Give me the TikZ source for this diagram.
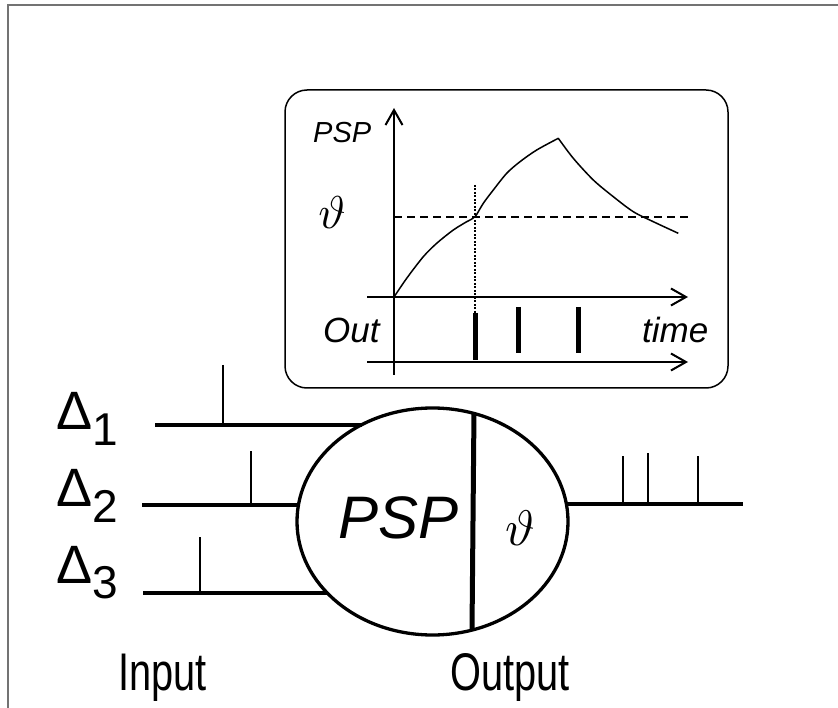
\documentclass[tikz,border=0pt]{standalone}
\usepackage{fontspec}
\setmainfont{Liberation Sans}
\usepackage{graphicx}
\usetikzlibrary{arrows.meta,shapes.geometric}

\begin{document}
\begin{tikzpicture}[x=1pt,y=-1pt,>={Straight Barb[length=15pt,width=17pt]},
  wire/.style={line width=3.5pt},
  spike/.style={line width=1.8pt},
  axis/.style={line width=2pt},
  big/.style={font=\fontsize{53}{60}\selectfont,inner sep=0pt,anchor=base west},
  mid/.style={font=\fontsize{35}{40}\selectfont\itshape,inner sep=0pt,anchor=base west},
  small/.style={font=\fontsize{29}{34}\selectfont\itshape,inner sep=0pt,anchor=base west}]
\useasboundingbox (0,0) rectangle (838,708);
\draw[black!55,line width=2pt] (838,5) -- (7.5,5) -- (7.5,708);

% inset: potential and output spikes
\node[draw,rounded corners=22pt,line width=1.5pt,minimum width=443pt,minimum height=298pt,inner sep=0pt] (graph) at (506.5,239) {};
\draw[axis,->] (394,375) -- (394,108);
\draw[axis,->] (367,297) -- (688,297);
\draw[axis,->] (367,362) -- (688,362);
\draw[line width=1.6pt,dash pattern=on 8pt off 5pt] (394,217) -- (690,217);
\draw[line width=2pt,dash pattern=on 2pt off 1.5pt] (475,185) -- (475,313);
\draw[line width=1.5pt,line join=round]
  plot[smooth] coordinates {(394,297) (406.7,278.3) (423.3,256.7) (436.7,243.3) (453.3,230) (466.7,221.7) (475,216.7) (483.3,203.3) (493.3,190) (506.7,173.3) (520,161.7) (536.7,150) (558.3,138.3)}
  -- plot[smooth] coordinates {(558.3,138.3) (573.3,158.3) (593.3,180) (613.3,196.7) (633.3,211.7) (653.3,221.7) (678.3,233.3)};
\draw[line width=5pt] (475,313) -- (475,360);
\draw[line width=5pt] (518,307) -- (518,353);
\draw[line width=5pt] (578,307) -- (578,353);
\node[small] (psplbl) at (313,143) {PSP};
\node[mid] (outlbl) at (323,343) {Out};
\node[mid] (timelbl) at (642,343) {time};
\node[inner sep=0pt] (thr) at (332,213) {\scalebox{4.6}{$\vartheta$}};

% neuron
\node[ellipse,draw,line width=3.3pt,minimum width=271pt,minimum height=227pt,inner sep=0pt,outer sep=0pt] (neuron) at (432.5,521.5) {};
\draw[line width=5pt] (neuron.69.5) -- (neuron.290.5);
\node[font=\fontsize{60}{60}\selectfont\itshape,inner sep=0pt,anchor=base west] (psp) at (338,538) {PSP};
\node[inner sep=0pt] (theta) at (520,528) {\scalebox{5}{$\vartheta$}};

\coordinate (in1) at (155,425);
\coordinate (in2) at (142,505);
\coordinate (in3) at (143,593);
\coordinate (out) at (743,504);
\draw[wire] (in1) -- (in1 -| neuron.126.5);
\draw[wire] (in2) -- (in2 -| neuron.173);
\draw[wire] (in3) -- (in3 -| neuron.214.25);
\draw[wire] (out -| neuron.7.45) -- (out);
\draw[spike] (223,365) -- (223,425);
\draw[spike] (251,451) -- (251,505);
\draw[spike] (200,537) -- (200,593);
\draw[spike] (623,456) -- (623,504);
\draw[spike] (648,453) -- (648,504);
\draw[spike] (698,456) -- (698,504);

\node[big,font=\fontsize{54}{60}\selectfont] (d1) at (56,429) {Δ\raisebox{-16pt}{\fontsize{46}{46}\selectfont 1}};
\node[big,font=\fontsize{54}{60}\selectfont] (d2) at (56,506) {Δ\raisebox{-16pt}{\fontsize{46}{46}\selectfont 2}};
\node[big,font=\fontsize{54}{60}\selectfont] (d3) at (56,583) {Δ\raisebox{-15pt}{\fontsize{46}{46}\selectfont 3}};
\node[big] (inlbl) at (118,690) {\scalebox{0.75}[1]{Input}};
\node[big] (outplbl) at (450,690) {\scalebox{0.75}[1]{Output}};
\end{tikzpicture}
\end{document}
